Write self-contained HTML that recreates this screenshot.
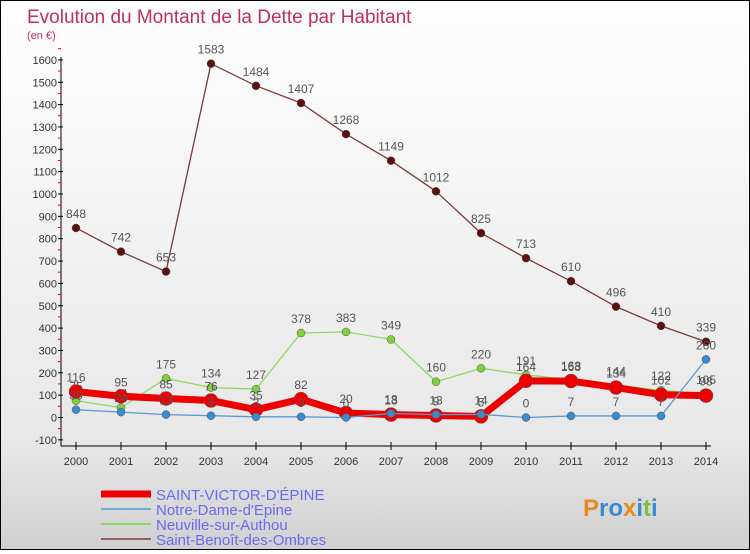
<!DOCTYPE html>
<html><head><meta charset="utf-8"><style>
body{margin:0;width:750px;height:550px;overflow:hidden;font-family:"Liberation Sans",sans-serif}
#wrap{position:relative;width:748px;height:548px;border:1px solid #000;background:linear-gradient(#fefefe,#e8e8e8 80%,#d0d0d0);}
</style></head><body>
<div id="wrap">
<svg id="svg" width="748" height="548"></svg>
</div>
<script>
const years=[2000,2001,2002,2003,2004,2005,2006,2007,2008,2009,2010,2011,2012,2013,2014];
const yTicks=[-100,0,100,200,300,400,500,600,700,800,900,1000,1100,1200,1300,1400,1500,1600];
const stVictor=[116,95,85,76,35,82,20,13,9,5,164,163,134,102,98];
const notreDame=[35,24,13,8,3,3,0,18,13,14,0,7,7,7,260];
const neuville=[75,44,175,134,127,378,383,349,160,220,191,168,144,122,105];
const stBenoit=[848,742,653,1583,1484,1407,1268,1149,1012,825,713,610,496,410,339];
const NS="http://www.w3.org/2000/svg";
const svg=document.getElementById('svg');
function X(i){return 75+i*45;}
function Y(v){return 416.5-v*0.2235;}
function el(t,a,p){const e=document.createElementNS(NS,t);for(const k in a)e.setAttribute(k,a[k]);(p||svg).appendChild(e);return e;}
let t=el('text',{x:26,y:22,fill:'#c0305a','font-size':19});t.textContent='Evolution du Montant de la Dette par Habitant';

t=el('text',{x:26,y:38,fill:'#c0305a','font-size':11});t.textContent='(en €)';

let a=el('line',{x1:60,y1:56,x2:60,y2:445,stroke:'#000'});

a=el('line',{x1:60,y1:445,x2:710,y2:445,stroke:'#000'});

yTicks.forEach(v=>{const y=Y(v);el('line',{x1:57,y1:y,x2:62,y2:y,stroke:'#000'});
el('line',{x1:57,y1:y-11.2,x2:60,y2:y-11.2,stroke:'#e00'});
const tx=el('text',{x:56,y:y+4,'text-anchor':'end','font-size':11,fill:'#333'});tx.textContent=v;
});
years.forEach((yr,i)=>{el('line',{x1:X(i),y1:441,x2:X(i),y2:449,stroke:'#000'});
const tx=el('text',{x:X(i),y:464,'text-anchor':'middle','font-size':11,fill:'#333'});tx.textContent=yr;
});
function series(data,color,w,r,dot,name){
const g=el('g',{});
el('polyline',{points:data.map((v,i)=>X(i)+','+Y(v)).join(' '),fill:'none',stroke:color,'stroke-width':w,'stroke-linejoin':'round'},g);
data.forEach((v,i)=>{const c=el('circle',{cx:X(i),cy:Y(v),r:r,fill:dot,stroke:'#555','stroke-width':0.5},g);

const tx=el('text',{x:X(i),y:Y(v)-10,'text-anchor':'middle','font-size':12,fill:'#555'},g);tx.textContent=v;});}
series(stBenoit,'#7a3a3a',1.3,4,'#5a1010','series-saint-benoit');
series(neuville,'#90d860',1.3,4,'#80d040','series-neuville');
series(stVictor,'#ee0000',7,7,'#ee0000','series-saint-victor');
series(notreDame,'#5a9ad0',1.3,4,'#3a8ad0','series-notre-dame');
const leg=[['SAINT-VICTOR-D\'ÉPINE','#ee0000',7],['Notre-Dame-d\'Epine','#7aaad0',2],['Neuville-sur-Authou','#90d860',2],['Saint-Benoît-des-Ombres','#906060',2]];
leg.forEach((l,i)=>{const y=493+i*15;const g=el('g',{});

el('line',{x1:100,y1:y,x2:150,y2:y,stroke:l[1],'stroke-width':l[2]},g);
const tx=el('text',{x:155,y:y+6,'font-size':15,fill:'#6a6af0'},g);tx.textContent=l[0];});
const logo=el('text',{x:582,y:515,'font-size':24,'font-weight':'bold',fill:'#3a8ad0'});

logo.innerHTML='<tspan fill="#e88a20">P</tspan>ro<tspan fill="#e88a20">x</tspan>i<tspan fill="#80c040">t</tspan>i';
</script>
</body></html>
